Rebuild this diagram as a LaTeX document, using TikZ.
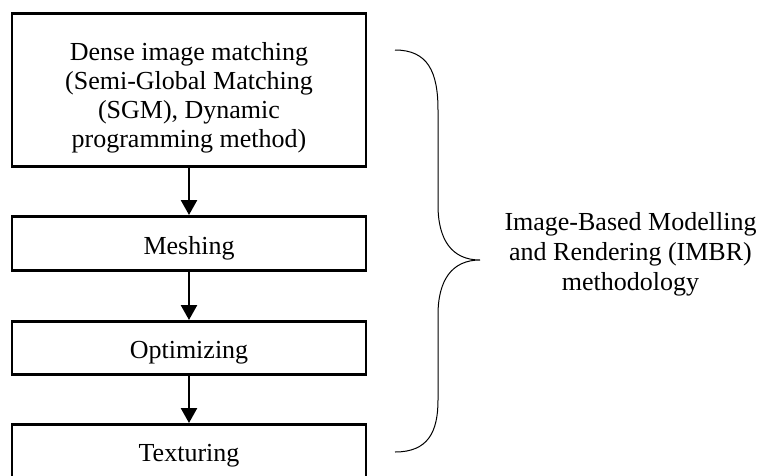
\documentclass[tikz,border=0pt]{standalone}
\usepackage{fontspec}
\setmainfont{Liberation Serif}
\usetikzlibrary{arrows.meta}
\begin{document}
\begin{tikzpicture}[x=1pt,y=-1pt,
  stepbox/.style={draw, line width=2.6pt, minimum width=354pt, inner sep=0pt, align=center, text height=21pt, text depth=0pt, font=\fontsize{26}{29}\selectfont},
  boxtext/.style={align=center, inner sep=0pt, font=\fontsize{26}{29}\selectfont},
  flow/.style={line width=2.6pt, -{Triangle[width=16pt,length=15pt]}},
  bracestyle/.style={line width=1pt},
  sidetext/.style={align=center, font=\fontsize{26}{30}\selectfont, inner sep=0pt}]
\useasboundingbox (0,0) rectangle (761,475);
\clip (0,0) rectangle (761,475);
\node[stepbox, minimum height=153.4pt] (dense) at (189,90) {};
\node[boxtext, anchor=base] (densetext) at (189,147) {Dense image matching\\(Semi-Global Matching\\(SGM), Dynamic\\programming method)};
\node[stepbox, minimum height=54.4pt] (mesh) at (189,243.5) {Meshing};
\node[stepbox, minimum height=53.4pt] (opt) at (189,348) {Optimizing};
\node[stepbox, minimum height=54pt] (tex) at (189,451.3) {Texturing};
\draw[flow] (dense) -- (mesh);
\draw[flow] (mesh) -- (opt);
\draw[flow] (opt) -- (tex);
\coordinate (btop) at (395,50);
\coordinate (btip) at (480,260);
\coordinate (bbot) at (395,452);
\draw[bracestyle] (btop) .. controls (428,50) and (438,72) .. (438,110) -- (438,205)
  .. controls (438,240) and (452,260) .. (btip)
  .. controls (452,260) and (438,280) .. (438,315) -- (438,400)
  .. controls (438,432) and (428,452) .. (bbot);
\node[sidetext, anchor=base] (imbr) at (630.5,290) {Image-Based Modelling\\and Rendering (IMBR)\\methodology};
\end{tikzpicture}
\end{document}
